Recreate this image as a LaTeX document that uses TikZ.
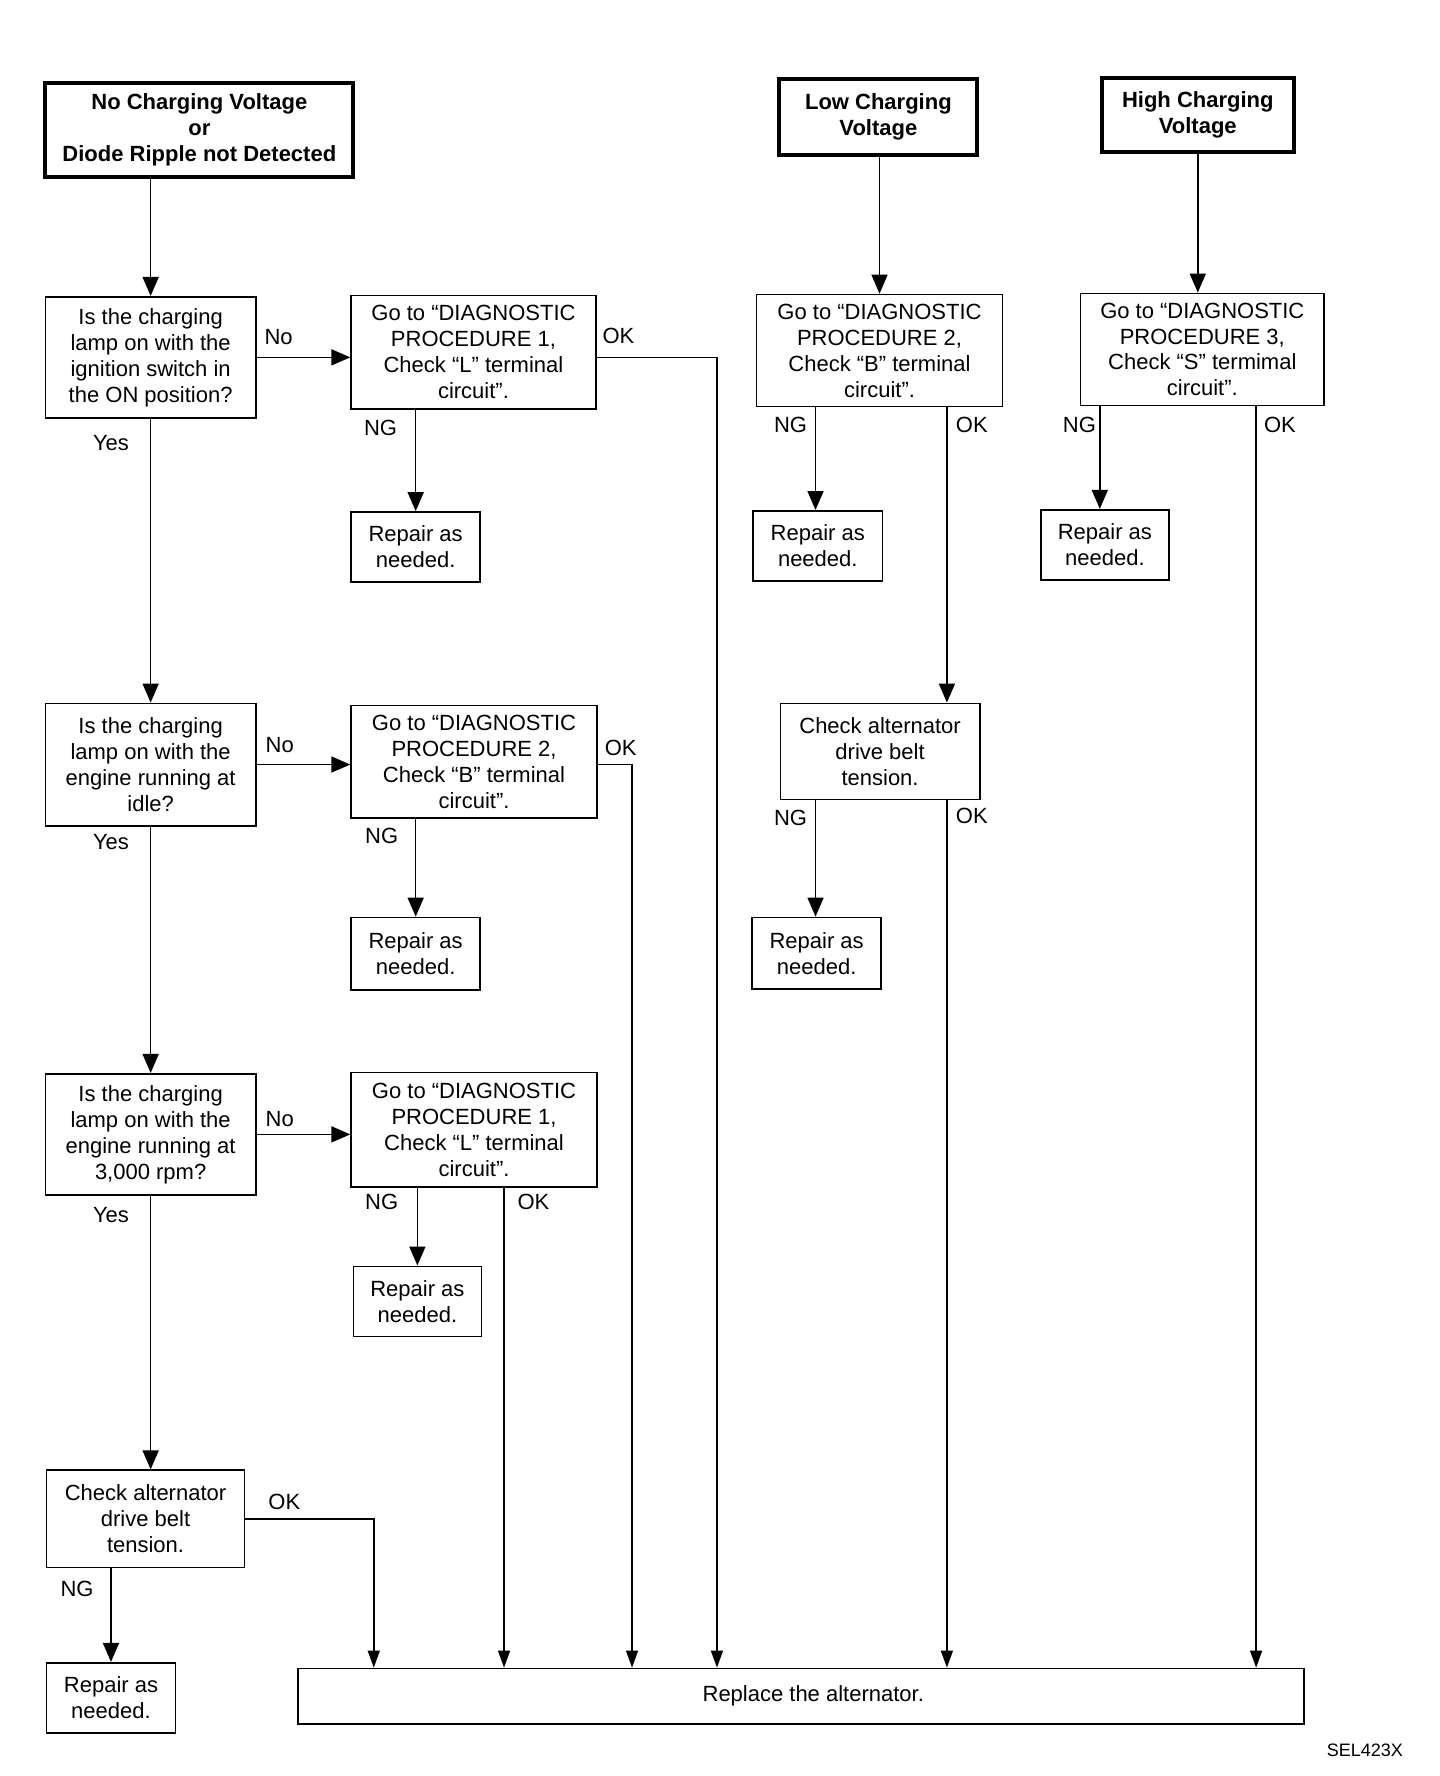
\documentclass[tikz,border=0pt]{standalone}
\usepackage{fontspec}
\setmainfont{Liberation Sans}
\usetikzlibrary{arrows.meta}
\newcommand\mybox[7]{\node[#6, minimum width={(#4-#2)*1.1328pt}, minimum height={(#5-#3)*1.1328pt}] (#1) at ({(#2+#4)/2},{(#3+#5)/2}) {#7};}
\tikzset{
  box/.style={draw, line width=1.6pt, inner sep=0pt, align=center},
  title/.style={draw, line width=4pt, inner sep=0pt, align=center, font=\fontsize{22}{26}\selectfont\bfseries},
  lbl/.style={inner sep=0pt},
  arr/.style={line width=1.6pt, -{Triangle[length=19pt,width=16pt]}},
  arrs/.style={line width=1.5pt, -{Triangle[length=17pt,width=12pt]}},
}
\begin{document}
\begin{tikzpicture}[x=1.1328pt, y=-1.1328pt, font=\fontsize{22}{26}\selectfont]
\useasboundingbox[fill=white] (0,0) rectangle (1271,1568);
% titles
\mybox{A}{40}{73}{312}{156}{title}{No Charging Voltage\\or\\Diode Ripple not Detected}
\mybox{L}{688}{70}{863}{137}{title}{Low Charging\\Voltage}
\mybox{H}{973}{69}{1142}{134}{title}{High Charging\\Voltage}
% left column
\mybox{Q1}{40}{262}{226}{369}{box}{Is the charging\\lamp on with the\\ignition switch in\\the ON position?}
\mybox{P1}{310}{261}{526}{361}{box}{Go to “DIAGNOSTIC\\PROCEDURE 1,\\Check “L” terminal\\circuit”.}
\mybox{R1}{310}{452}{424}{514}{box}{Repair as\\needed.}
\mybox{Q2}{40}{621}{226}{729}{box}{Is the charging\\lamp on with the\\engine running at\\idle?}
\mybox{P2}{310}{623}{527}{722}{box}{Go to “DIAGNOSTIC\\PROCEDURE 2,\\Check “B” terminal\\circuit”.}
\mybox{R2}{310}{810}{424}{874}{box}{Repair as\\needed.}
\mybox{Q3}{40}{948}{226}{1055}{box}{Is the charging\\lamp on with the\\engine running at\\3,000 rpm?}
\mybox{P3}{310}{947}{527}{1048}{box}{Go to “DIAGNOSTIC\\PROCEDURE 1,\\Check “L” terminal\\circuit”.}
\mybox{R3}{312}{1118}{425}{1180}{box}{Repair as\\needed.}
\mybox{C1}{41}{1298}{216}{1384}{box}{Check alternator\\drive belt\\tension.}
\mybox{R4}{41}{1468}{155}{1530}{box}{Repair as\\needed.}
% low column
\mybox{P4}{668}{260}{885}{359}{box}{Go to “DIAGNOSTIC\\PROCEDURE 2,\\Check “B” terminal\\circuit”.}
\mybox{R5}{665}{451}{779}{513}{box}{Repair as\\needed.}
\mybox{C2}{689}{621}{865}{706}{box}{Check alternator\\drive belt\\tension.}
\mybox{R6}{664}{810}{778}{873}{box}{Repair as\\needed.}
% high column
\mybox{P5}{954}{259}{1169}{358}{box}{Go to “DIAGNOSTIC\\PROCEDURE 3,\\Check “S” termimal\\circuit”.}
\mybox{R7}{919}{450}{1032}{512}{box}{Repair as\\needed.}
% replace
\mybox{Rep}{263}{1473}{1151}{1522}{box}{\raisebox{-5pt}{\hspace*{25pt}Replace the alternator.}}
% x columns
\coordinate (x330) at (330,0);
\coordinate (x445) at (445,0);
\coordinate (x558) at (558,0);
\coordinate (x633) at (633,0);
\coordinate (x720) at (720,0);
\coordinate (x836) at (836,0);
\coordinate (x971) at (971,0);
\coordinate (x1109) at (1109,0);
% connectors left
\draw[arr] (A.south -| Q1.north) -- (Q1.north);
\draw[arr] (Q1.east) -- (Q1.east -| P1.west);
\draw[arr] (P1.south -| R1.north) -- (R1.north);
\draw[arrs] (P1.east |- Q1.east) -| (x633 |- Rep.north);
\draw[arr] (Q1.south) -- (Q2.north);
\draw[arr] (Q2.east) -- (Q2.east -| P2.west);
\draw[arrs] (P2.east |- Q2.east) -| (x558 |- Rep.north);
\draw[arr] (P2.south -| R2.north) -- (R2.north);
\draw[arr] (Q2.south) -- (Q3.north);
\draw[arr] (Q3.east) -- (Q3.east -| P3.west);
\draw[arr] (P3.south -| R3.north) -- (R3.north);
\draw[arrs] (x445 |- P3.south) -- (x445 |- Rep.north);
\draw[arr] (Q3.south) -- (Q3.south |- C1.north);
\draw[arrs] (C1.east) -| (x330 |- Rep.north);
\draw[arr] (C1.south -| R4.north) -- (R4.north);
% connectors low
\draw[arr] (L.south -| P4.north) -- (P4.north);
\draw[arr] (x720 |- P4.south) -- (x720 |- R5.north);
\draw[arr] (x836 |- P4.south) -- (x836 |- C2.north);
\draw[arr] (x720 |- C2.south) -- (x720 |- R6.north);
\draw[arrs] (x836 |- C2.south) -- (x836 |- Rep.north);
% connectors high
\draw[arr] (H.south) -- (H.south |- P5.north);
\draw[arr] (x971 |- P5.south) -- (x971 |- R7.north);
\draw[arrs] (x1109 |- P5.south) -- (x1109 |- Rep.north);
% labels
\node[lbl] (n1) at (246,298) {No};
\node[lbl] (n2) at (247,658) {No};
\node[lbl] (n3) at (247,988) {No};
\node[lbl] (o1) at (546,297) {OK};
\node[lbl] (o2) at (548,660) {OK};
\node[lbl] (o3) at (471,1061) {OK};
\node[lbl] (o4) at (251,1326) {OK};
\node[lbl] (o5) at (858,375) {OK};
\node[lbl] (o6) at (858,720) {OK};
\node[lbl] (o7) at (1130,375) {OK};
\node[lbl] (g1) at (336,378) {NG};
\node[lbl] (g2) at (337,738) {NG};
\node[lbl] (g3) at (337,1061) {NG};
\node[lbl] (g4) at (68,1403) {NG};
\node[lbl] (g5) at (698,375) {NG};
\node[lbl] (g6) at (698,722) {NG};
\node[lbl] (g7) at (953,375) {NG};
\node[lbl] (y1) at (98,391) {Yes};
\node[lbl] (y2) at (98,743) {Yes};
\node[lbl] (y3) at (98,1073) {Yes};
\node[lbl, font=\fontsize{18}{20}\selectfont] (sel) at (1205,1545) {SEL423X};
\end{tikzpicture}
\end{document}
